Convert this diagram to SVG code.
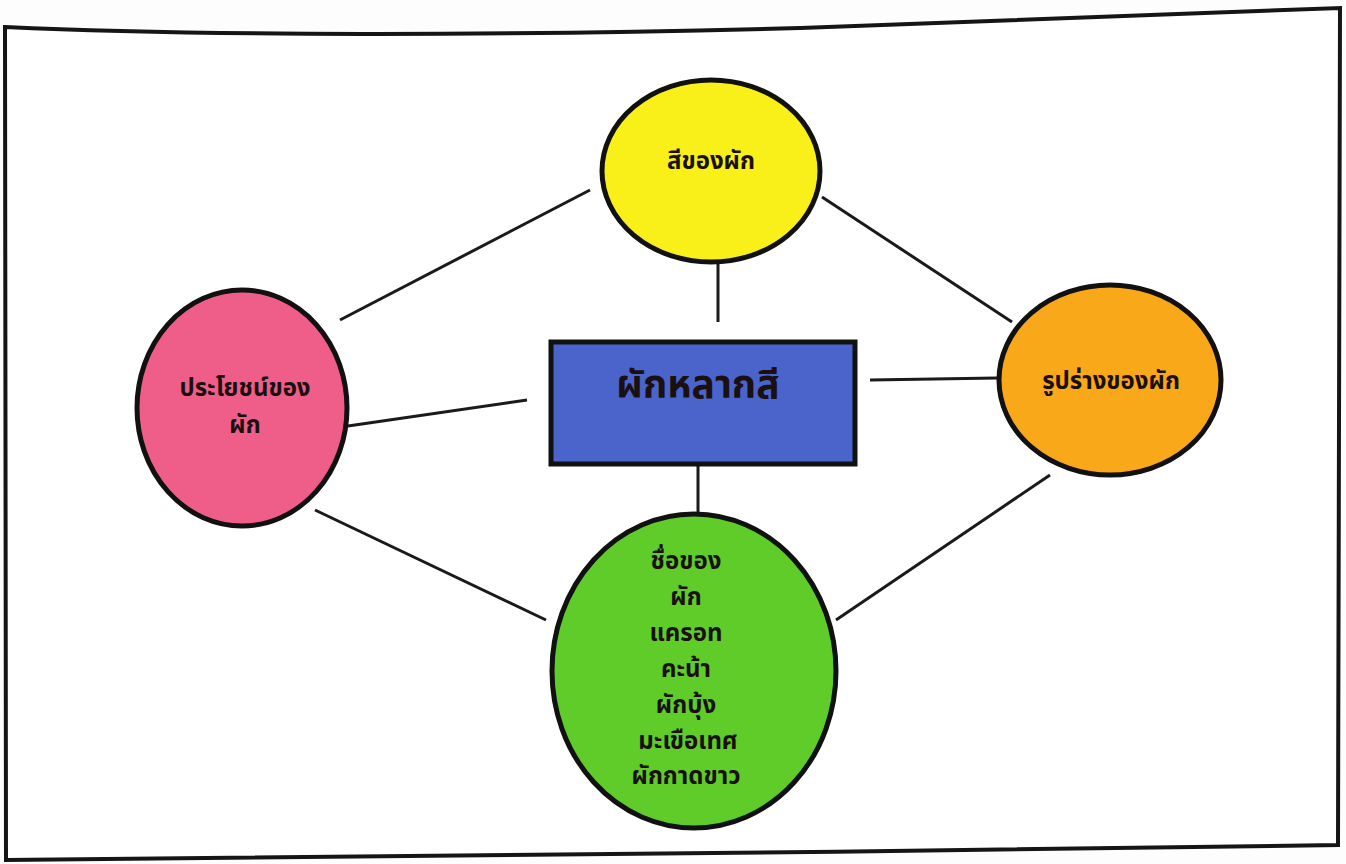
<svg xmlns="http://www.w3.org/2000/svg" width="1346" height="864" viewBox="0 0 1346 864">
<style>
.n{stroke:#111;stroke-width:5}
.c line{stroke:#1a1a1a;stroke-width:3}
text{font-family:"Noto Sans Thai","Noto Sans","DejaVu Sans",sans-serif;font-weight:bold;fill:#1a1010;text-anchor:middle}
.s{font-size:24px}
.l{font-size:39px}
</style>
<rect width="1346" height="864" fill="#fdfdfd"/>
<path d="M5,27 C200,36 500,36 800,28 C1000,22 1200,14 1340,8 L1338,845 C900,852 400,856 6,860 Z" fill="#fff" stroke="#151515" stroke-width="4"/>
<g class="c">
<line x1="340" y1="320" x2="590" y2="190"/>
<line x1="822" y1="197" x2="1012" y2="322"/>
<line x1="718" y1="258" x2="718" y2="322"/>
<line x1="527" y1="400" x2="348" y2="426"/>
<line x1="870" y1="380" x2="997" y2="378"/>
<line x1="698" y1="452" x2="698" y2="514"/>
<line x1="315" y1="510" x2="546" y2="620"/>
<line x1="1050" y1="475" x2="836" y2="620"/>
</g>
<g id="n-color"><ellipse class="n" cx="711" cy="171" rx="109" ry="91" fill="#f8f018"/><text class="s" x="711" y="169">สีของผัก</text></g>
<g id="n-benefit"><ellipse class="n" cx="242" cy="408" rx="105" ry="118" fill="#ef5e88"/><text class="s" x="245" y="396">ประโยชน์ของ</text><text class="s" x="245" y="433">ผัก</text></g>
<g id="n-center"><rect class="n" x="551" y="342" width="304" height="122" fill="#4b64cb"/><text class="l" x="698" y="398">ผักหลากสี</text></g>
<g id="n-shape"><ellipse class="n" cx="1110" cy="380" rx="111" ry="95" fill="#f9a81a"/><text class="s" x="1111" y="389">รูปร่างของผัก</text></g>
<g id="n-names"><ellipse class="n" cx="694" cy="671" rx="142" ry="157" fill="#5fcc2a"/>
<text class="s" x="686" y="569">ชื่อของ</text>
<text class="s" x="686" y="605">ผัก</text>
<text class="s" x="686" y="641">แครอท</text>
<text class="s" x="686" y="677">คะน้า</text>
<text class="s" x="686" y="713">ผักบุ้ง</text>
<text class="s" x="688" y="749">มะเขือเทศ</text>
<text class="s" x="686" y="784">ผักกาดขาว</text>
</g>
</svg>
